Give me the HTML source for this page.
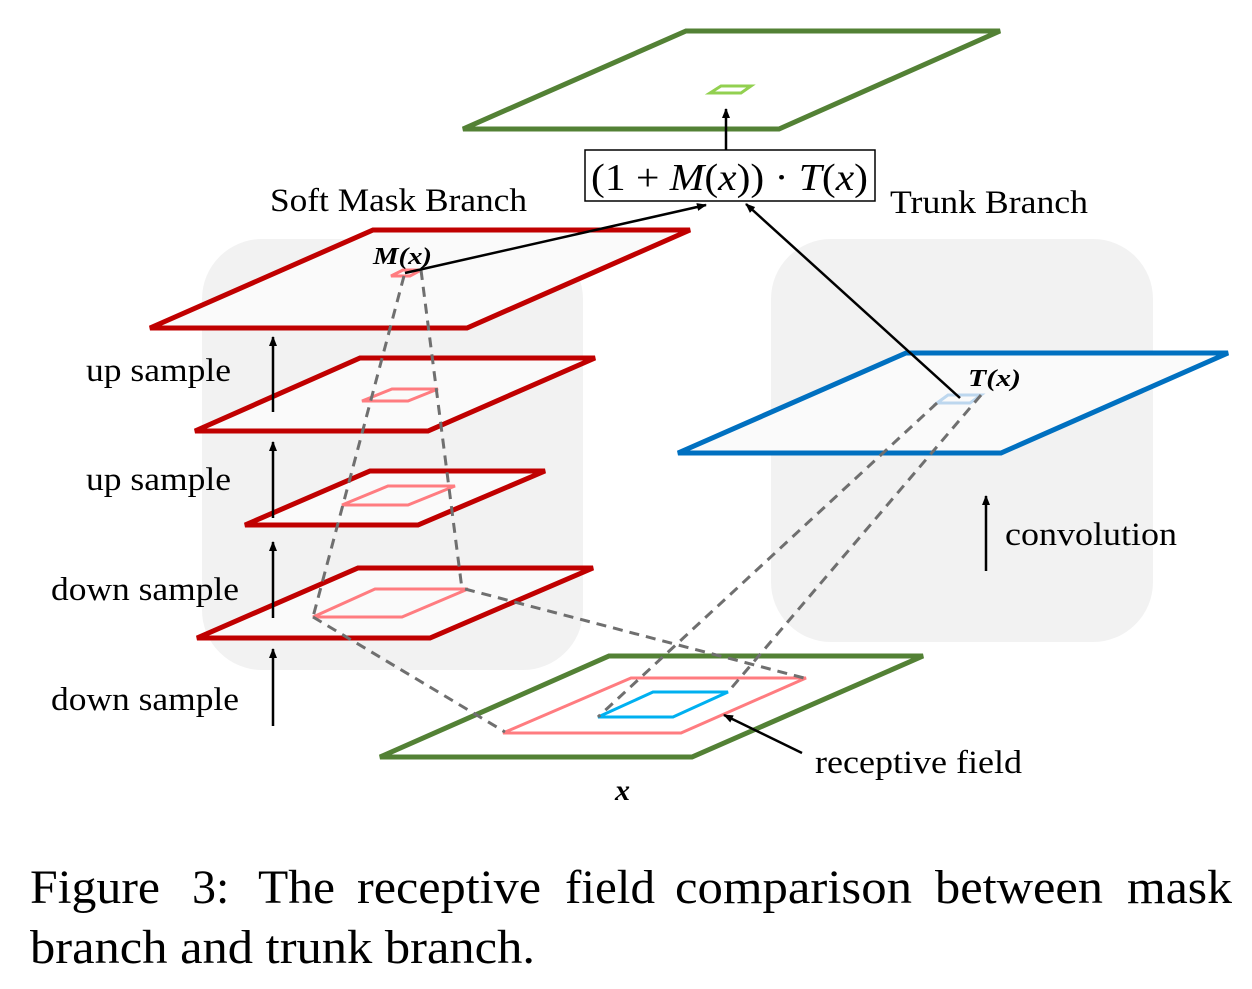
<!DOCTYPE html>
<html><head><meta charset="utf-8"><style>
body{margin:0;background:#fff;}
svg{display:block;}
text{font-family:"Liberation Serif",serif;fill:#000;}
</style></head><body>
<svg width="1252" height="989" viewBox="0 0 1252 989" xmlns="http://www.w3.org/2000/svg">
<defs>
<marker id="ah" markerWidth="10" markerHeight="8" refX="9" refY="4" orient="auto" markerUnits="userSpaceOnUse"><path d="M0,0 L10,4 L0,8 Z" fill="#000"/></marker>
</defs>
<rect x="202" y="239" width="381" height="431" rx="60" fill="#f2f2f2"/>
<rect x="771" y="239" width="382" height="403" rx="60" fill="#f2f2f2"/>

<polygon points="686,31 1000,31 779,129 463,129" fill="#fff" stroke="#538135" stroke-width="5"/>
<polygon points="710,93 721,86 751,86 741,93" fill="#fff" stroke="#92d050" stroke-width="3"/>
<line x1="726" y1="153" x2="726" y2="109" stroke="#000" stroke-width="2.5" marker-end="url(#ah)"/>
<rect x="585" y="150" width="290" height="51" fill="#fff" stroke="#000" stroke-width="1.5"/>
<text x="591" y="190" font-size="38" textLength="277" lengthAdjust="spacingAndGlyphs">(1 + <tspan font-style="italic">M</tspan>(<tspan font-style="italic">x</tspan>)) · <tspan font-style="italic">T</tspan>(<tspan font-style="italic">x</tspan>)</text>

<polygon points="197,638 358,568 593,568 430,638" fill="#fafafa" stroke="#c00000" stroke-width="5"/>
<polygon points="313,617 375,589 468,589 402,617" fill="none" stroke="#ff7c80" stroke-width="3"/>
<polygon points="245,525 370,471 545,471 418,525" fill="#fafafa" stroke="#c00000" stroke-width="5"/>
<polygon points="342,505 388,486 455,486 408,505" fill="none" stroke="#ff7c80" stroke-width="3"/>
<polygon points="195,431 360,358 595,358 428,431" fill="#fafafa" stroke="#c00000" stroke-width="5"/>
<polygon points="362,401 392,389 438,389 408,401" fill="none" stroke="#ff7c80" stroke-width="3"/>
<polygon points="150,328 373,230 690,230 467,328" fill="#fafafa" stroke="#c00000" stroke-width="5"/>
<polygon points="391,276 403,270 421,270 410,276" fill="none" stroke="#ff7c80" stroke-width="3"/>

<polygon points="678,453 906,353 1228,353 1001,453" fill="#fafafa" stroke="#0070c0" stroke-width="5"/>
<polygon points="937,403 948,395 981,395 970,403" fill="none" stroke="#bdd7ee" stroke-width="3"/>

<polygon points="380,757 609,656 923,656 692,757" fill="#fff" stroke="#538135" stroke-width="5"/>
<polygon points="503,733 631,678 806,678 681,733" fill="none" stroke="#ff7c80" stroke-width="3"/>
<polygon points="598,717 653,692 728,692 673,717" fill="none" stroke="#00b0f0" stroke-width="3"/>

<g stroke="#6f6f6f" stroke-width="3" stroke-dasharray="10 7" fill="none">
<line x1="404" y1="276" x2="313" y2="617"/>
<line x1="421" y1="270" x2="462" y2="589"/>
<line x1="313" y1="617" x2="505" y2="732"/>
<line x1="465" y1="589" x2="804" y2="678"/>
<line x1="937" y1="403" x2="598" y2="717"/>
<line x1="981" y1="395" x2="728" y2="692"/>
</g>

<g stroke="#000" stroke-width="2.5" marker-end="url(#ah)">
<line x1="405" y1="273" x2="706" y2="205"/>
<line x1="960" y1="398" x2="746" y2="204"/>
<line x1="802" y1="753" x2="724" y2="715"/>
<line x1="986" y1="571" x2="986" y2="496"/>
<line x1="273" y1="412" x2="273" y2="337"/>
<line x1="273" y1="518" x2="273" y2="442"/>
<line x1="273" y1="618" x2="273" y2="542"/>
<line x1="273" y1="726" x2="273" y2="649"/>
</g>

<text x="373" y="264" font-size="24" font-weight="bold" font-style="italic" textLength="59" lengthAdjust="spacingAndGlyphs">M(x)</text>
<text x="968" y="386" font-size="24" font-weight="bold" font-style="italic" textLength="53" lengthAdjust="spacingAndGlyphs">T(x)</text>
<text x="615" y="800" font-size="30" font-weight="bold" font-style="italic">x</text>

<text x="270" y="211" font-size="33" textLength="257" lengthAdjust="spacingAndGlyphs">Soft Mask Branch</text>
<text x="890" y="213" font-size="33" textLength="198" lengthAdjust="spacingAndGlyphs">Trunk Branch</text>
<text x="86" y="381" font-size="33" textLength="145" lengthAdjust="spacingAndGlyphs">up sample</text>
<text x="86" y="490" font-size="33" textLength="145" lengthAdjust="spacingAndGlyphs">up sample</text>
<text x="51" y="600" font-size="33" textLength="188" lengthAdjust="spacingAndGlyphs">down sample</text>
<text x="51" y="710" font-size="33" textLength="188" lengthAdjust="spacingAndGlyphs">down sample</text>
<text x="1005" y="545" font-size="33" textLength="172" lengthAdjust="spacingAndGlyphs">convolution</text>
<text x="815" y="773" font-size="33" textLength="207" lengthAdjust="spacingAndGlyphs">receptive field</text>

<g font-size="48">
<text x="30" y="903" textLength="130" lengthAdjust="spacingAndGlyphs">Figure</text>
<text x="192" y="903">3:</text>
<text x="258" y="903" textLength="77" lengthAdjust="spacingAndGlyphs">The</text>
<text x="357" y="903" textLength="184" lengthAdjust="spacingAndGlyphs">receptive</text>
<text x="565" y="903" textLength="90" lengthAdjust="spacingAndGlyphs">field</text>
<text x="675" y="903" textLength="237" lengthAdjust="spacingAndGlyphs">comparison</text>
<text x="935" y="903" textLength="168" lengthAdjust="spacingAndGlyphs">between</text>
<text x="1127" y="903" textLength="105" lengthAdjust="spacingAndGlyphs">mask</text>
<text x="30" y="963" textLength="505" lengthAdjust="spacingAndGlyphs">branch and trunk branch.</text>
</g>
</svg>
</body></html>
